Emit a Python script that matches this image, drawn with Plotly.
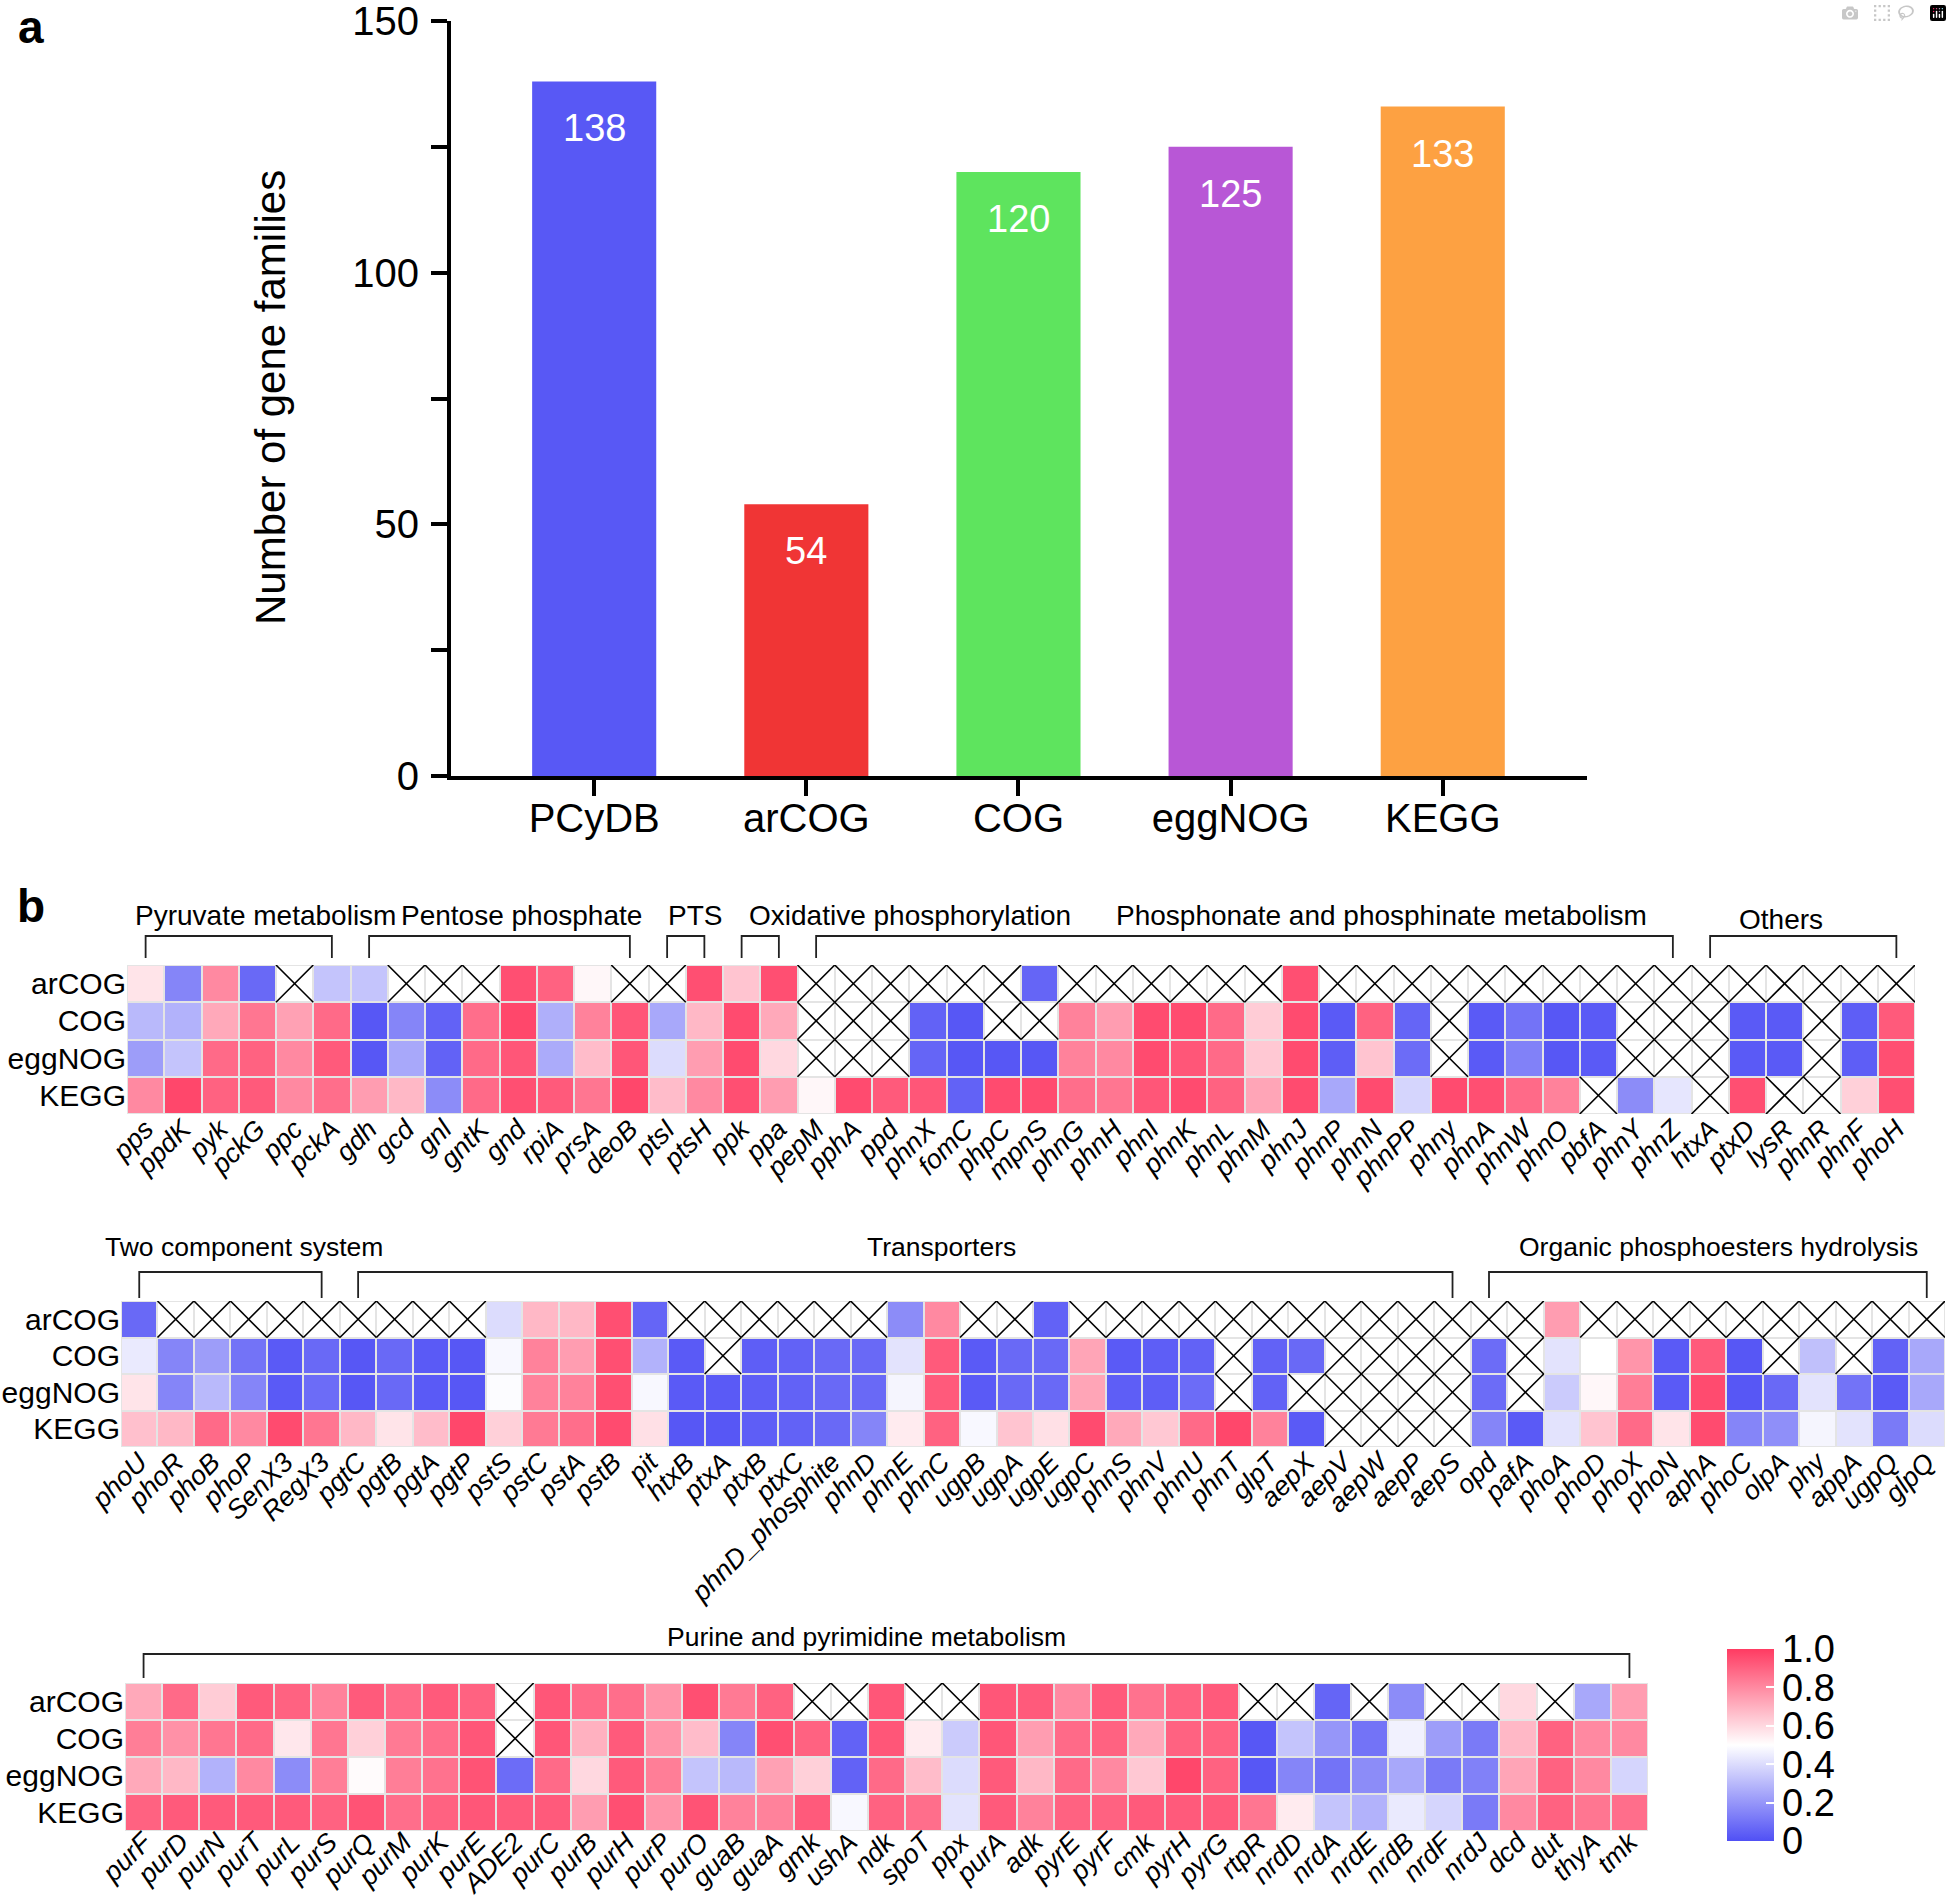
import plotly.graph_objects as go

W, H = 1952, 1900
FONT = "Liberation Sans, Arial, Helvetica, sans-serif"
N = None

# ---------------- Panel a data ----------------
bar_categories = ["PCyDB", "arCOG", "COG", "eggNOG", "KEGG"]
bar_values = [138, 54, 120, 125, 133]
bar_colors = ["#5858F5", "#F03535", "#5EE45E", "#B857D6", "#FDA142"]
bar_yticks = [0, 50, 100, 150]
bar_minor_ticks = [25, 75, 125]

# ---------------- Panel b data ----------------
row_labels = ["arCOG", "COG", "eggNOG", "KEGG"]

hm1_genes = ["pps", "ppdK", "pyk", "pckG", "ppc", "pckA", "gdh", "gcd", "gnl", "gntK", "gnd", "rpiA",
             "prsA", "deoB", "ptsI", "ptsH", "ppk", "ppa", "pepM", "pphA", "ppd", "phnX", "fomC", "phpC",
             "mpnS", "phnG", "phnH", "phnI", "phnK", "phnL", "phnM", "phnJ", "phnP", "phnN", "phnPP", "phny",
             "phnA", "phnW", "phnO", "pbfA", "phnY", "phnZ", "htxA", "ptxD", "lysR", "phnR", "phnF", "phoH"]
hm1_arCOG = [0.57, 0.15, 0.80, 0.07, N, 0.33, 0.33, N, N, N, 0.95, 0.90,
             0.52, N, N, 0.95, 0.65, 0.95, N, N, N, N, N, N,
             0.06, N, N, N, N, N, N, 0.95, N, N, N, N,
             N, N, N, N, N, N, N, N, N, N, N, N]
hm1_COG = [0.30, 0.28, 0.72, 0.85, 0.74, 0.88, 0.02, 0.15, 0.05, 0.87, 0.97, 0.27,
           0.82, 0.93, 0.25, 0.68, 0.96, 0.72, N, N, N, 0.05, 0.02, N,
           N, 0.82, 0.75, 0.96, 0.96, 0.88, 0.63, 0.96, 0.03, 0.90, 0.06, N,
           0.03, 0.10, 0.02, 0.03, N, N, N, 0.03, 0.03, N, 0.04, 0.92]
hm1_eggNOG = [0.22, 0.33, 0.88, 0.90, 0.80, 0.92, 0.02, 0.25, 0.05, 0.88, 0.93, 0.26,
              0.67, 0.93, 0.40, 0.75, 0.96, 0.60, N, N, N, 0.06, 0.02, 0.02,
              0.02, 0.82, 0.80, 0.96, 0.93, 0.88, 0.64, 0.96, 0.04, 0.65, 0.08, N,
              0.03, 0.14, 0.02, 0.03, N, N, N, 0.03, 0.03, N, 0.04, 0.95]
hm1_KEGG = [0.80, 0.97, 0.90, 0.92, 0.80, 0.87, 0.75, 0.68, 0.17, 0.88, 0.95, 0.92,
            0.85, 0.97, 0.67, 0.80, 0.95, 0.75, 0.52, 0.96, 0.92, 0.93, 0.05, 0.96,
            0.96, 0.87, 0.85, 0.93, 0.96, 0.90, 0.73, 0.96, 0.25, 0.96, 0.38, 0.96,
            0.95, 0.88, 0.82, N, 0.17, 0.43, N, 0.95, N, N, 0.62, 0.95]
hm1_groups = [("Pyruvate metabolism", 0, 5), ("Pentose phosphate", 6, 13), ("PTS", 14, 15),
              ("Oxidative phosphorylation", 16, 17),
              ("Phosphonate and phosphinate metabolism", 18, 41), ("Others", 42, 47)]

hm2_genes = ["phoU", "phoR", "phoB", "phoP", "SenX3", "RegX3", "pgtC", "pgtB", "pgtA", "pgtP",
             "pstS", "pstC", "pstA", "pstB", "pit", "htxB", "ptxA", "ptxB", "ptxC", "phnD_phosphite",
             "phnD", "phnE", "phnC", "ugpB", "ugpA", "ugpE", "ugpC", "phnS", "phnV", "phnU",
             "phnT", "glpT", "aepX", "aepV", "aepW", "aepP", "aepS", "opd", "pafA", "phoA",
             "phoD", "phoX", "phoN", "aphA", "phoC", "olpA", "phy", "appA", "ugpQ", "glpQ"]
hm2_arCOG = [0.07, N, N, N, N, N, N, N, N, N,
             0.40, 0.68, 0.68, 0.95, 0.06, N, N, N, N, N,
             N, 0.17, 0.80, N, N, 0.05, N, N, N, N,
             N, N, N, N, N, N, N, N, N, 0.75,
             N, N, N, N, N, N, N, N, N, N]
hm2_COG = [0.44, 0.15, 0.22, 0.10, 0.03, 0.07, 0.02, 0.07, 0.03, 0.02,
           0.48, 0.82, 0.75, 0.95, 0.28, 0.03, N, 0.04, 0.05, 0.07,
           0.07, 0.42, 0.92, 0.03, 0.07, 0.07, 0.73, 0.03, 0.04, 0.05,
           N, 0.05, 0.07, N, N, N, N, 0.08, N, 0.42,
           0.50, 0.77, 0.03, 0.92, 0.02, N, 0.32, N, 0.05, 0.25]
hm2_eggNOG = [0.57, 0.15, 0.30, 0.15, 0.03, 0.08, 0.02, 0.07, 0.03, 0.02,
              0.49, 0.82, 0.82, 0.95, 0.48, 0.03, 0.03, 0.04, 0.05, 0.07,
              0.07, 0.47, 0.92, 0.03, 0.07, 0.07, 0.73, 0.04, 0.04, 0.08,
              N, 0.05, N, N, N, N, N, 0.08, N, 0.35,
              0.52, 0.83, 0.03, 0.96, 0.02, 0.07, 0.42, 0.10, 0.03, 0.25]
hm2_KEGG = [0.66, 0.68, 0.88, 0.80, 0.96, 0.85, 0.68, 0.57, 0.67, 0.97,
            0.62, 0.84, 0.87, 0.96, 0.58, 0.02, 0.02, 0.04, 0.05, 0.07,
            0.15, 0.55, 0.90, 0.48, 0.65, 0.58, 0.96, 0.72, 0.64, 0.88,
            0.97, 0.82, 0.03, N, N, N, N, 0.15, 0.03, 0.42,
            0.65, 0.88, 0.57, 0.96, 0.15, 0.18, 0.47, 0.42, 0.12, 0.40]
hm2_groups = [("Two component system", 0, 5), ("Transporters", 6, 36),
              ("Organic phosphoesters hydrolysis", 37, 49)]

hm3_genes = ["purF", "purD", "purN", "purT", "purL", "purS", "purQ", "purM", "purK", "purE",
             "ADE2", "purC", "purB", "purH", "purP", "purO", "guaB", "guaA", "gmk", "ushA",
             "ndk", "spoT", "ppx", "purA", "adk", "pyrE", "pyrF", "cmk", "pyrH", "pyrG",
             "rtpR", "nrdD", "nrdA", "nrdE", "nrdB", "nrdF", "nrdJ", "dcd", "dut", "thyA", "tmk"]
hm3_arCOG = [0.72, 0.88, 0.63, 0.92, 0.90, 0.82, 0.92, 0.88, 0.92, 0.90,
             N, 0.93, 0.88, 0.87, 0.77, 0.95, 0.84, 0.90, N, N,
             0.93, N, N, 0.93, 0.92, 0.80, 0.92, 0.86, 0.90, 0.92,
             N, N, 0.06, N, 0.17, N, N, 0.60, N, 0.25, 0.75]
hm3_COG = [0.83, 0.78, 0.85, 0.88, 0.56, 0.85, 0.62, 0.84, 0.87, 0.93,
           N, 0.93, 0.70, 0.92, 0.77, 0.67, 0.15, 0.95, 0.90, 0.05,
           0.93, 0.55, 0.35, 0.93, 0.75, 0.88, 0.90, 0.72, 0.90, 0.90,
           0.02, 0.33, 0.20, 0.10, 0.46, 0.22, 0.12, 0.68, 0.90, 0.80, 0.80]
hm3_eggNOG = [0.72, 0.68, 0.28, 0.80, 0.17, 0.83, 0.51, 0.83, 0.86, 0.94,
              0.08, 0.88, 0.60, 0.92, 0.83, 0.33, 0.30, 0.74, 0.62, 0.05,
              0.88, 0.67, 0.40, 0.92, 0.68, 0.88, 0.80, 0.64, 0.97, 0.90,
              0.02, 0.15, 0.10, 0.17, 0.25, 0.12, 0.14, 0.73, 0.90, 0.80, 0.38]
hm3_KEGG = [0.90, 0.92, 0.92, 0.92, 0.92, 0.90, 0.94, 0.87, 0.90, 0.93,
            0.92, 0.92, 0.75, 0.95, 0.77, 0.94, 0.82, 0.82, 0.92, 0.48,
            0.90, 0.87, 0.42, 0.92, 0.82, 0.90, 0.90, 0.92, 0.92, 0.92,
            0.85, 0.55, 0.33, 0.28, 0.44, 0.38, 0.12, 0.80, 0.90, 0.85, 0.87]
hm3_groups = [("Purine and pyrimidine metabolism", 0, 40)]

colorbar_ticks = [0, 0.2, 0.4, 0.6, 0.8, 1.0]
colorbar_ticktext = ["0", "0.2", "0.4", "0.6", "0.8", "1.0"]

# ---------------- Layout geometry (pixels in the 1952x1900 figure) ----------------
def px_x(p):
    return p / W

def px_y(p):
    return 1 - p / H

fig = go.Figure()

# ---------------- Panel a: bars ----------------
fig.add_trace(go.Bar(x=bar_categories, y=bar_values, marker=dict(color=bar_colors, line=dict(width=0)),
                     width=0.585, xaxis="x", yaxis="y", showlegend=False, hoverinfo="skip"))

annotations = []
for c, v in zip(bar_categories, bar_values):
    annotations.append(dict(x=c, y=v, xref="x", yref="y", text=str(v), showarrow=False,
                            xanchor="center", yanchor="top", yshift=-24,
                            font=dict(size=38, color="white", family=FONT)))

annotations.append(dict(x=px_x(271), y=px_y(398), xref="paper", yref="paper",
                        text="Number of gene families", textangle=-90, showarrow=False,
                        xanchor="center", yanchor="middle",
                        font=dict(size=42, color="black", family=FONT)))
annotations.append(dict(x=px_x(31), y=px_y(0), xref="paper", yref="paper", text="<b>a</b>",
                        showarrow=False, xanchor="center", yanchor="top", borderpad=0,
                        font=dict(size=46, color="black", family=FONT)))
annotations.append(dict(x=px_x(31), y=px_y(906), xref="paper", yref="paper", text="<b>b</b>",
                        showarrow=False, xanchor="center", yanchor="middle",
                        font=dict(size=46, color="black", family=FONT)))

layout_axes = dict(
    xaxis=dict(domain=[px_x(451), px_x(1587)], anchor="y", type="category", automargin=False,
               range=[-0.675, 4.68], showline=True, linewidth=4, linecolor="black",
               ticks="outside", ticklen=16, tickwidth=4, tickcolor="black", ticklabelstandoff=-12,
               tickfont=dict(size=40, color="black", family=FONT), showgrid=False, zeroline=False,
               fixedrange=True),
    yaxis=dict(domain=[px_y(776), px_y(21)], anchor="x", range=[0, 150], automargin=False,
               tickvals=bar_yticks, ticks="outside", ticklen=16, tickwidth=4, tickcolor="black",
               ticklabeloverflow="allow", ticklabelstandoff=4,
               minor=dict(tickvals=bar_minor_ticks, ticks="outside", ticklen=16, tickwidth=4,
                          tickcolor="black", showgrid=False),
               showline=True, linewidth=4, linecolor="black", showgrid=False, zeroline=False,
               tickfont=dict(size=40, color="black", family=FONT), fixedrange=True),
)

# ---------------- Panel b: heatmaps ----------------
heatmaps = [
    dict(genes=hm1_genes, rows=[hm1_arCOG, hm1_COG, hm1_eggNOG, hm1_KEGG], groups=hm1_groups,
         xpx=(127, 1915), ypx=(965, 1114), label_y=(915, 920), bracket_y=(936, 958),
         label_x=[3.21, 10.08, 14.74, 20.52, 33.18, 43.9], label_size=28, standoff=-7),
    dict(genes=hm2_genes, rows=[hm2_arCOG, hm2_COG, hm2_eggNOG, hm2_KEGG], groups=hm2_groups,
         xpx=(121, 1945), ypx=(1301, 1447), label_y=(1247, 1247), bracket_y=(1272, 1298),
         label_x=[2.87, 22.0, 43.3], label_size=26.5, standoff=-7),
    dict(genes=hm3_genes, rows=[hm3_arCOG, hm3_COG, hm3_eggNOG, hm3_KEGG], groups=hm3_groups,
         xpx=(125, 1648), ypx=(1683, 1831), label_y=(1637, 1637), bracket_y=(1654, 1678),
         label_x=[19.46], label_size=26.5, standoff=-11),
]

shapes = []
for k, hm in enumerate(heatmaps):
    ax_n = k + 2
    xa, ya = f"x{ax_n}", f"y{ax_n}"
    genes = hm["genes"]
    n = len(genes)
    cols = list(range(n))
    z = [list(r) for r in hm["rows"]]
    mask = [[(1 if v is None else None) for v in r] for r in hm["rows"]]

    fig.add_trace(go.Heatmap(z=mask, x=cols, y=[0, 1, 2, 3], xaxis=xa, yaxis=ya,
                             colorscale=[[0, "white"], [1, "white"]], zmin=0, zmax=1,
                             showscale=False, xgap=2, ygap=2, hoverinfo="skip"))
    fig.add_trace(go.Heatmap(z=z, x=cols, y=[0, 1, 2, 3], xaxis=xa, yaxis=ya,
                             coloraxis="coloraxis", xgap=2, ygap=2, hoverinfo="skip"))

    # crosses for missing cells
    cx, cy = [], []
    for i, r in enumerate(hm["rows"]):
        for j, v in enumerate(r):
            if v is None:
                cx += [j - 0.5, j + 0.5, None, j - 0.5, j + 0.5, None]
                cy += [i - 0.5, i + 0.5, None, i + 0.5, i - 0.5, None]
    fig.add_trace(go.Scatter(x=cx, y=cy, xaxis=xa, yaxis=ya, mode="lines",
                             line=dict(color="black", width=1.6), showlegend=False,
                             hoverinfo="skip", connectgaps=False))

    x0p, x1p = hm["xpx"]
    y0p, y1p = hm["ypx"]
    layout_axes[f"xaxis{ax_n}"] = dict(
        domain=[px_x(x0p), px_x(x1p)], anchor=ya, range=[-0.5, n - 0.5], automargin=False,
        tickvals=cols, ticktext=genes, tickangle=-45, ticks="", ticklabelstandoff=hm["standoff"],
        tickfont=dict(size=27, color="black", family=FONT, style="italic"),
        showgrid=False, zeroline=False, showline=False, fixedrange=True)
    layout_axes[f"yaxis{ax_n}"] = dict(
        domain=[px_y(y1p), px_y(y0p)], anchor=xa, range=[3.5, -0.5], automargin=False,
        tickvals=[0, 1, 2, 3], ticktext=row_labels, ticks="", ticklabeloverflow="allow",
        tickfont=dict(size=30, color="black", family=FONT),
        showgrid=False, zeroline=False, showline=False, fixedrange=True)

    # grey background for cell gaps
    shapes.append(dict(type="rect", xref=f"{xa} domain", yref=f"{ya} domain", x0=0, x1=1, y0=0, y1=1,
                       fillcolor="#E4E4E4", line=dict(width=0), layer="below"))

    by_top, by_bot = hm["bracket_y"]
    for gi, (name, a, b) in enumerate(hm["groups"]):
        shapes.append(dict(type="path", xref=xa, yref="paper",
                           path=f"M {a},{px_y(by_bot)} L {a},{px_y(by_top)} L {b},{px_y(by_top)} L {b},{px_y(by_bot)}",
                           line=dict(color="#222222", width=1.8)))
        ly = hm["label_y"][1] if name == "Others" else hm["label_y"][0]
        annotations.append(dict(x=hm["label_x"][gi], y=px_y(ly), xref=xa, yref="paper", text=name,
                                showarrow=False, xanchor="center", yanchor="middle",
                                font=dict(size=hm["label_size"], color="black", family=FONT)))

fig.update_layout(
    width=W, height=H, autosize=False,
    margin=dict(l=0, r=0, t=0, b=0, pad=0, autoexpand=False),
    paper_bgcolor="white", plot_bgcolor="white",
    font=dict(family=FONT, color="black"),
    showlegend=False,
    annotations=annotations,
    shapes=shapes,
    coloraxis=dict(
        cmin=0, cmax=1,
        colorscale=[[0, "#5050F5"], [0.5, "#FFFFFF"], [1, "#FF3B62"]],
        colorbar=dict(x=px_x(1727), xanchor="left", xpad=0, thickness=47,
                      len=192 / H, lenmode="fraction", y=px_y(1745), yanchor="middle", ypad=0,
                      outlinewidth=0, tickvals=colorbar_ticks, ticktext=colorbar_ticktext,
                      ticks="inside", ticklen=8, tickwidth=2, tickcolor="white",
                      tickfont=dict(size=38, color="black", family=FONT)),
    ),
    **layout_axes,
)

fig.write_html("out.html", post_script="document.body.style.margin='0px';")
